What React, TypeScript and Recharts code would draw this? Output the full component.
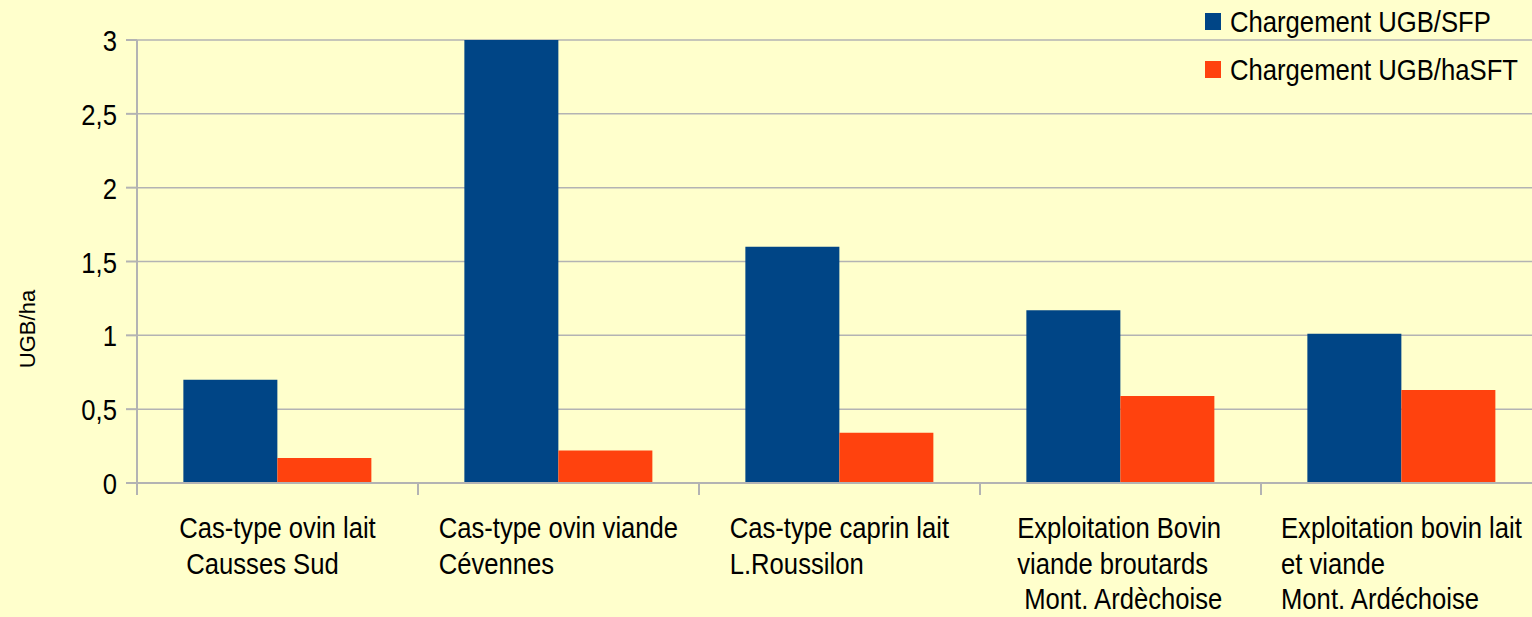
import { Bar, BarChart, CartesianGrid, Legend, XAxis, YAxis } from "recharts";

const categories = [
  ["Cas-type ovin lait", " Causses Sud"],
  ["Cas-type ovin viande", "Cévennes"],
  ["Cas-type caprin lait", "L.Roussilon"],
  ["Exploitation Bovin", "viande broutards", " Mont. Ardèchoise"],
  ["Exploitation bovin lait", "et viande", "Mont. Ardéchoise"],
];
const chargementSfp = [0.7, 3.0, 1.6, 1.17, 1.01];
const chargementSft = [0.17, 0.22, 0.34, 0.59, 0.63];
const yTicks = [0, 0.5, 1, 1.5, 2, 2.5, 3];
const seriesNames = ["Chargement UGB/SFP", "Chargement UGB/haSFT"];

const data = categories.map((lines, i) => ({
  name: lines.join("\n"),
  sfp: chargementSfp[i],
  sft: chargementSft[i],
}));

// the original text is a condensed sans; squeeze Liberation Sans horizontally
const FONT = '"Liberation Sans", Arial, sans-serif';
const FONT_SIZE = 30;
const SQUEEZE = 0.855;
const CHART_W = 1542;
const CHART_H = 617;
const PLOT_LEFT = 137;
const BAND = (CHART_W - PLOT_LEFT) / categories.length;
const BLUE = "#004586";
const ORANGE = "#ff420e";
const GRID = "#b3b3b3";

let ctx: CanvasRenderingContext2D | null = null;
function textWidth(s: string) {
  if (!ctx) ctx = document.createElement("canvas").getContext("2d");
  if (!ctx) return s.length * 14;
  ctx.font = `${FONT_SIZE}px ${FONT}`;
  return ctx.measureText(s).width * SQUEEZE;
}

function SqText({ x, y, anchor = "start", children }: any) {
  return (
    <text
      transform={`translate(${x},${y}) scale(${SQUEEZE},1)`}
      textAnchor={anchor}
      fontFamily={FONT}
      fontSize={FONT_SIZE}
      fill="#000"
      style={{ whiteSpace: "pre" }}
    >
      {children}
    </text>
  );
}

function CategoryTick(props: any) {
  const { x, y, payload } = props;
  const lines: string[] = String(payload.value).split("\n");
  const w = Math.max(...lines.map(textWidth));
  const left = x - w / 2;
  return (
    <g>
      <line x1={x - BAND / 2} x2={x - BAND / 2} y1={y} y2={y + 12} stroke={GRID} strokeWidth={2} />
      {lines.map((l, i) => (
        <SqText key={i} x={left} y={y + 55 + i * 35.5}>
          {l}
        </SqText>
      ))}
    </g>
  );
}

function ValueTick(props: any) {
  const { x, y, payload } = props;
  return (
    <SqText x={x} y={y + 11} anchor="end">
      {String(payload.value).replace(".", ",")}
    </SqText>
  );
}

function LegendBox() {
  const colors = [BLUE, ORANGE];
  return (
    <div style={{ position: "relative", width: 320, height: 100 }}>
      {seriesNames.map((n, i) => (
        <div key={n}>
          <div
            style={{
              position: "absolute",
              left: 0,
              top: 8 + i * 48,
              width: 16,
              height: 17,
              background: colors[i],
            }}
          />
          <div
            style={{
              position: "absolute",
              left: 25,
              top: i * 48 - 3,
              fontFamily: FONT,
              fontSize: FONT_SIZE,
              lineHeight: "40px",
              color: "#000",
              whiteSpace: "nowrap",
              transform: `scaleX(${SQUEEZE})`,
              transformOrigin: "0 0",
            }}
          >
            {n}
          </div>
        </div>
      ))}
    </div>
  );
}

export default function App() {
  return (
    <div
      style={{
        position: "absolute",
        left: 0,
        top: 0,
        width: 1532,
        height: 617,
        overflow: "hidden",
        background: "#ffffcc",
      }}
    >
      <BarChart
        width={CHART_W}
        height={CHART_H}
        data={data}
        margin={{ top: 40, right: 0, bottom: 0, left: 0 }}
        barCategoryGap="16.5%"
        barGap={0}
      >
        <CartesianGrid vertical={false} stroke={GRID} strokeWidth={1.5} />
        <XAxis
          dataKey="name"
          height={134}
          interval={0}
          tickSize={0}
          tickMargin={0}
          tick={<CategoryTick />}
          axisLine={{ stroke: GRID, strokeWidth: 2 }}
        />
        <YAxis
          width={PLOT_LEFT}
          domain={[0, 3]}
          ticks={yTicks}
          interval={0}
          tickSize={11}
          tickMargin={9}
          tick={<ValueTick />}
          tickLine={{ stroke: GRID, strokeWidth: 2 }}
          axisLine={{ stroke: GRID, strokeWidth: 2 }}
          label={{
            value: "UGB/ha",
            content: () => (
              <text
                transform="translate(35,329) rotate(-90)"
                textAnchor="middle"
                fontFamily={FONT}
                fontSize={22}
                fill="#000"
              >
                UGB/ha
              </text>
            ),
          }}
        />
        <Legend
          layout="vertical"
          align="center"
          verticalAlign="middle"
          content={() => <LegendBox />}
          wrapperStyle={{ position: "absolute", left: 1205, top: 5, width: 320 }}
        />
        <Bar dataKey="sfp" name={seriesNames[0]} fill={BLUE} isAnimationActive={false} />
        <Bar dataKey="sft" name={seriesNames[1]} fill={ORANGE} isAnimationActive={false} />
      </BarChart>
    </div>
  );
}
